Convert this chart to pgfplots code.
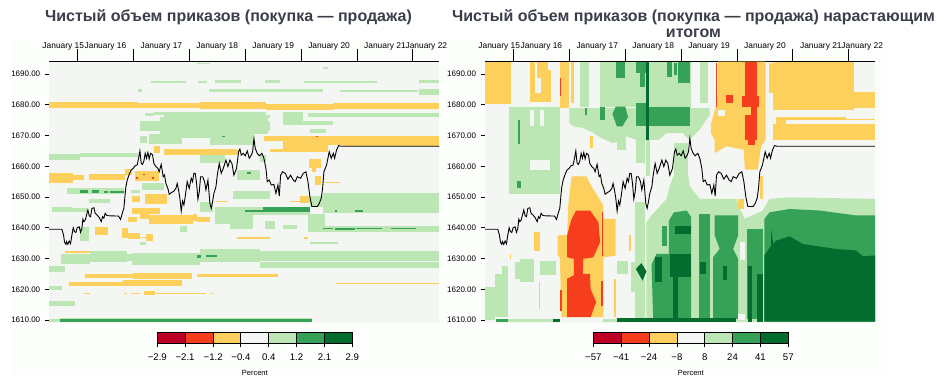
\documentclass[border=0pt]{standalone}
\usepackage{fontspec}
\setmainfont{Liberation Sans}
\usepackage{pgfplots}
\usepackage{pgfplotstable}
\pgfplotsset{compat=1.18}
\definecolor{hR}{HTML}{F63D1E}
\definecolor{hDR}{HTML}{BD0026}
\definecolor{hY}{HTML}{FDCF5C}
\definecolor{hB}{HTML}{F4F6F3}
\definecolor{hG}{HTML}{BDE6B5}
\definecolor{hM}{HTML}{35A257}
\definecolor{hD}{HTML}{046C2E}
\definecolor{ttl}{HTML}{3A3F4A}
\definecolor{pane}{HTML}{FCFEFB}
\newcommand{\hr}[5]{\addplot[fill=#1,draw=none,forget plot] coordinates {(#2,#4)(#3,#4)(#3,#5)(#2,#5)};}
\newcommand{\hp}[2]{\addplot[fill=#1,draw=none,forget plot] coordinates {#2};}
\pgfplotstableread{
x y
14.494 1639.5
14.720 1639.5
14.75 1637.6
14.768 1635.3
14.792 1634.6
14.804 1635.5
14.827 1634.6
14.851 1635.7
14.875 1634.8
14.899 1637.6
14.923 1640.0
14.947 1638.7
14.971 1638.5
14.994 1640
15.030 1640.3
15.054 1638.5
15.078 1639.8
15.096 1642.8
15.114 1642
15.138 1642.5
15.161 1644.1
15.185 1645.8
15.209 1643.9
15.233 1643.6
15.257 1646.3
15.293 1646.5
15.316 1644.7
15.352 1644.1
15.388 1643.3
15.424 1642
15.448 1643.6
15.471 1643.1
15.495 1644.7
15.519 1644.1
15.555 1643.9
15.734 1643.8
15.770 1642.7
15.805 1645
15.829 1646.3
15.853 1651.2
15.865 1653.3
15.889 1655.5
15.925 1657.4
15.960 1658.8
15.996 1659.3
16.032 1660.2
16.068 1660.4
16.092 1662.6
16.116 1665
16.139 1661
16.163 1660.6
16.187 1661.7
16.211 1664.2
16.235 1662.6
16.259 1664.5
16.282 1662.4
16.306 1664.2
16.342 1663.7
16.366 1660.9
16.402 1659.9
16.438 1659.3
16.461 1658.2
16.497 1660.6
16.533 1656.6
16.557 1657.2
16.581 1654.4
16.616 1652.8
16.64 1650.9
16.676 1651.4
16.724 1651.9
16.76 1652.8
16.783 1654.4
16.807 1652.3
16.831 1649.6
16.855 1645.4
16.879 1648.7
16.903 1647.4
16.926 1650.1
16.962 1655
16.998 1652.8
17.034 1656.1
17.058 1655
17.081 1657.7
17.106 1657.7
17.13 1654.4
17.154 1649.3
17.178 1651.7
17.201 1656.6
17.237 1656.6
17.273 1655
17.297 1652.3
17.333 1655.5
17.368 1647.9
17.392 1646.3
17.416 1648.5
17.44 1651.2
17.476 1653.3
17.5 1657.1
17.535 1660.9
17.571 1657.7
17.607 1659.3
17.655 1662
17.69 1659.9
17.726 1662
17.762 1660.9
17.798 1657.1
17.845 1659.3
17.881 1664.7
17.905 1665.6
17.929 1663.6
17.965 1664.2
18.0 1663.4
18.036 1665
18.072 1662.6
18.108 1663.6
18.132 1664.7
18.156 1669.1
18.179 1665.8
18.215 1664.2
18.251 1663.4
18.299 1664.2
18.334 1662.6
18.37 1659.3
18.394 1655
18.43 1655.5
18.466 1653.9
18.513 1654.1
18.549 1651.2
18.585 1653.9
18.609 1650.3
18.633 1657.1
18.668 1658.2
18.716 1657.7
18.764 1655.8
18.811 1657.1
18.859 1655.5
18.895 1655
18.931 1656.6
18.99 1656.1
19.038 1657.7
19.086 1658.2
19.122 1655
19.157 1650.1
19.193 1646.9
19.253 1646.9
19.289 1646.9
19.324 1647.9
19.36 1649.6
19.384 1652.8
19.408 1658.2
19.455 1660.4
19.503 1664.7
19.539 1662.6
19.575 1664.2
19.599 1662.6
19.634 1665.3
19.67 1666.7
19.72 1666.5
21.472 1666.5
}\pricetable
\pgfplotsset{
  mainpanel/.style={
    anchor=south west, scale only axis, width=390bp, height=261.2bp,
    xmin=14.495, xmax=21.472, ymin=1609.12, ymax=1694.07,
    clip=false,
    axis background/.style={fill=hB},
    axis x line*=top, axis y line*=left,
    y axis line style={draw=none},
    x axis line style={black,line width=0.9bp,-},
    tick align=outside, tick style={black,line width=0.9bp},
    xtick=\empty,
    minor xtick={14.75,15.25,15.5,15.75,16.25,16.5,16.75,17.25,17.5,17.75,18.25,18.5,18.75,19.25,19.5,19.75,20.25,20.5,20.75,21.25},
    minor tick length=3bp, major tick length=4.3bp,
    extra x ticks={15,16,17,18,19,20,21},
    extra x tick labels={},
    extra x tick style={major tick length=13bp},
    ytick={1610,1620,1630,1640,1650,1660,1670,1680,1690},
    yticklabels={1610.00,1620.00,1630.00,1640.00,1650.00,1660.00,1670.00,1680.00,1690.00},
    yticklabel style={font=\fontsize{8bp}{9bp}\selectfont,inner sep=0pt,xshift=-4.6bp},
  },
  barpanel/.style={
    anchor=south west, scale only axis, width=195bp, height=11.3bp,
    ymin=0, ymax=1, ytick=\empty, xtick pos=bottom,
    tick align=outside, major tick length=4bp,
    axis line style={black,line width=0.9bp}, tick style={black,line width=0.9bp},
    xticklabel style={font=\fontsize{9.6bp}{10bp}\selectfont,inner sep=0pt,yshift=-6bp},
    xlabel={Percent}, xlabel style={font=\fontsize{7.5bp}{8bp}\selectfont,inner sep=0pt,yshift=-10bp},
  },
}
\newcommand{\dn}[2]{\node[font=\fontsize{8.4bp}{9bp}\selectfont,inner sep=0pt,anchor=center,yshift=14.8bp] at (axis cs:#1,1694.07) {January #2};}
\newcommand{\daynames}{\dn{14.745}{15}\dn{15.5}{16}\dn{16.5}{17}\dn{17.5}{18}\dn{18.5}{19}\dn{19.5}{20}\dn{20.5}{21}\dn{21.24}{22}}
\begin{document}
\begin{tikzpicture}[x=1bp,y=1bp]
\path[use as bounding box] (0,0) rectangle (947,376);
\fill[white] (0,0) rectangle (947,376);
\fill[pane] (11,1) rectangle (882,336);
\node[font=\fontsize{16bp}{17bp}\selectfont\bfseries,text=ttl,inner sep=0pt] at (228.5,359) {Чистый объем приказов (покупка — продажа)};
\node[font=\fontsize{16bp}{17bp}\selectfont\bfseries,text=ttl,inner sep=0pt] at (693.5,359) {Чистый объем приказов (покупка — продажа) нарастающим};
\node[font=\fontsize{16bp}{17bp}\selectfont\bfseries,text=ttl,inner sep=0pt] at (693.5,343) {итогом};

% ---------- left panel
\begin{axis}[mainpanel, at={(49.3bp,53.3bp)}]
% light green
\hr{hG}{17.13}{17.37}{1693.7}{1693.4}
\hr{hG}{19.39}{19.48}{1692.2}{1691.7}
\hr{hG}{16.31}{16.94}{1687.8}{1687.1}
\hr{hG}{17.16}{17.31}{1687.8}{1687.1}
\hr{hG}{17.46}{17.92}{1688}{1687.1}
\hr{hG}{18.35}{18.62}{1688}{1687.1}
\hr{hG}{19.05}{20.36}{1687.7}{1687.2}
\hr{hG}{21.10}{21.472}{1688.1}{1687.1}
\hr{hG}{17.36}{19.39}{1685}{1684}
\hr{hG}{16.09}{16.15}{1685}{1684.3}
\hr{hG}{19.69}{21.09}{1684.8}{1684.1}
\hr{hG}{21.10}{21.472}{1685.1}{1683.2}
\hr{hG}{16.36}{18.38}{1677.6}{1676.7}
\hr{hG}{16.21}{16.36}{1677.3}{1676.2}
\hr{hG}{16.54}{18.44}{1676.7}{1675.6}
\hr{hG}{16.11}{18.44}{1674.8}{1671.6}
\hr{hG}{16.48}{18.4}{1676}{1670.5}
\hr{hG}{16.27}{16.86}{1670.5}{1667.3}
\hr{hG}{16.86}{17.37}{1670.5}{1669.3}
\hr{hG}{17.37}{18.14}{1670.5}{1666.9}
\hr{hG}{16.12}{16.24}{1669.7}{1667.5}
\hr{hG}{18.68}{19.04}{1677.5}{1673.5}
\hr{hG}{19.04}{19.57}{1674.8}{1673.5}
\hr{hG}{19.13}{21.472}{1677.3}{1676}
\hr{hG}{19.16}{19.45}{1672.2}{1670.8}
\hr{hG}{14.495}{15.05}{1664.1}{1662.1}
\hr{hG}{15.05}{16.09}{1664.3}{1663}
\hr{hG}{17.19}{17.64}{1663.8}{1661.1}
\hr{hG}{17.86}{18.26}{1658.9}{1655.6}
\hr{hG}{18.26}{18.38}{1663.8}{1661.5}
\hr{hG}{16.15}{16.54}{1654.6}{1652.4}
\hr{hG}{14.55}{14.9}{1646.9}{1645}
\hr{hG}{14.9}{15.17}{1646.3}{1645}
\hr{hG}{14.81}{15.83}{1652.8}{1651}
\hr{hG}{15.2}{15.58}{1649.4}{1648.1}
\hr{hG}{15.95}{16.12}{1652.4}{1651.3}
\hr{hG}{17.46}{19.16}{1646.9}{1644.2}
\hr{hG}{17.46}{17.73}{1644.2}{1641.2}
\hr{hG}{17.73}{18.14}{1644}{1639.6}
\hr{hG}{18.35}{18.53}{1642.3}{1639.6}
\hr{hG}{18.68}{18.92}{1640.9}{1639.6}
\hr{hG}{19.13}{19.42}{1644.5}{1638.5}
\hr{hG}{17.79}{18.44}{1652.1}{1649.4}
\hr{hG}{17.19}{17.43}{1648.3}{1645.2}
\hr{hG}{19.39}{21.472}{1651.3}{1644.7}
\hr{hG}{19.16}{19.42}{1650.4}{1646.6}
\hr{hG}{19.13}{21.472}{1640.5}{1638.5}
\hr{hG}{15.05}{15.2}{1640.2}{1635.8}
\hr{hG}{16.12}{16.23}{1635.5}{1634.4}
\hr{hG}{19.16}{19.66}{1635.5}{1634.7}
\hr{hG}{16.83}{16.95}{1640.5}{1638.7}
\hr{hG}{14.71}{15.23}{1631.5}{1628.2}
\hr{hG}{15.23}{15.88}{1632.6}{1628.8}
\hr{hG}{15.88}{15.97}{1631.5}{1629.3}
\hr{hG}{15.97}{17.19}{1631.7}{1627.9}
\hr{hG}{17.19}{18.26}{1633.1}{1629}
\hr{hG}{18.26}{21.472}{1632.6}{1629.3}
\hr{hG}{18.26}{21.472}{1628.9}{1626.8}
\hr{hG}{14.495}{14.78}{1627.4}{1625.5}
\hr{hG}{14.495}{14.72}{1620.9}{1619.6}
\hr{hG}{14.495}{14.96}{1616.3}{1614.7}
\hr{hG}{14.69}{19.19}{1610.8}{1610.3}
\hr{hG}{14.495}{14.69}{1610.4}{1609.5}
% yellow
\hr{hY}{14.495}{16.09}{1680.9}{1679.1}
\hr{hY}{16.09}{17.19}{1680.5}{1678.9}
\hr{hY}{17.19}{18.38}{1680.8}{1678.7}
\hr{hY}{18.38}{19.57}{1680.2}{1678.4}
\hr{hY}{19.57}{21.472}{1680.5}{1678.6}
\hr{hY}{18.33}{18.67}{1669.9}{1668.1}
\hr{hY}{18.44}{18.67}{1665.7}{1664.6}
\hr{hY}{18.67}{19.48}{1669.9}{1664.5}
\hr{hY}{19.48}{19.75}{1669.9}{1667}
\hr{hY}{19.75}{21.472}{1669.7}{1666.7}
\hr{hY}{16.36}{16.47}{1666.7}{1664.3}
\hr{hY}{16.54}{17.85}{1665.7}{1663.8}
\hr{hY}{17.85}{17.89}{1665.4}{1663.8}
\hr{hY}{14.495}{14.92}{1657.8}{1654.6}
\hr{hY}{14.92}{15.11}{1657}{1655.6}
\hr{hY}{15.2}{15.85}{1657.6}{1655.4}
\hr{hY}{15.85}{15.97}{1659.1}{1657.3}
\hr{hY}{16.03}{16.45}{1658.4}{1655.1}
\hr{hY}{19.14}{19.36}{1662.3}{1659.4}
\hr{hY}{19.19}{19.27}{1659.4}{1658}
\hr{hY}{19.25}{19.36}{1656.7}{1654}
\hr{hY}{19.42}{19.7}{1654.9}{1654.5}
\hr{hY}{15.97}{16.12}{1650.2}{1648.5}
\hr{hY}{16.21}{16.6}{1651}{1647.7}
\hr{hY}{15.97}{16.48}{1646.3}{1644.5}
\hr{hY}{16.12}{16.27}{1644.5}{1642.9}
\hr{hY}{16.27}{17.07}{1644}{1641.2}
\hr{hY}{15.91}{16.06}{1643.4}{1642}
\hr{hY}{17.07}{17.13}{1644.5}{1642.3}
\hr{hY}{17.13}{17.37}{1643.4}{1642}
\hr{hY}{18.98}{19.16}{1650.4}{1648.1}
\hr{hY}{15.32}{15.54}{1640.2}{1637.7}
\hr{hY}{15.79}{15.91}{1639.8}{1636.6}
\hr{hY}{15.91}{16.12}{1638.2}{1636.4}
\hr{hY}{16.12}{16.23}{1636.9}{1636.6}
\hr{hY}{16.23}{16.35}{1638}{1635.8}
\hr{hY}{17.86}{18.44}{1637.1}{1636.3}
\hr{hY}{19.05}{19.13}{1637.1}{1636.3}
\hr{hY}{14.78}{15.23}{1632.5}{1631.7}
\hr{hY}{15.14}{16}{1625}{1623.6}
\hr{hY}{16}{17.04}{1625.3}{1623.4}
\hr{hY}{14.84}{15.82}{1622.5}{1621}
\hr{hY}{15.82}{16.86}{1623}{1621}
\hr{hY}{17.13}{18.59}{1625}{1624}
\hr{hY}{15.11}{15.22}{1618.9}{1618.4}
\hr{hY}{15.83}{15.89}{1618.9}{1618.6}
\hr{hY}{15.95}{16.12}{1618.9}{1618.4}
\hr{hY}{16.19}{16.39}{1619.3}{1618}
\hr{hY}{16.39}{17.3}{1618.9}{1618.4}
\hr{hY}{17.37}{17.42}{1618.9}{1618.4}
\hr{hY}{19.63}{21.472}{1621.9}{1621.7}
\hr{hY}{17.47}{17.7}{1648.8}{1648.5}
\hr{hY}{18.8}{18.98}{1648.8}{1648.5}
% mid green
\hr{hM}{17.58}{17.64}{1669.9}{1669.4}
\hr{hM}{18.04}{18.1}{1658}{1657.4}
\hr{hM}{15.05}{15.18}{1652.2}{1651.2}
\hr{hM}{15.26}{15.38}{1652.2}{1651.2}
\hr{hM}{15.48}{15.55}{1652}{1651.4}
\hr{hM}{15.58}{15.83}{1651.8}{1651.4}
\hr{hM}{17.99}{18.56}{1645.9}{1645.2}
\hr{hM}{18.32}{19.16}{1646.6}{1645}
\hr{hM}{19.6}{19.64}{1645.9}{1645.2}
\hr{hM}{19.96}{20.11}{1645.9}{1645.2}
\hr{hM}{19.39}{19.57}{1639.8}{1639.5}
\hr{hM}{19.6}{19.96}{1640}{1639.4}
\hr{hM}{19.99}{20.45}{1639.8}{1639.5}
\hr{hM}{20.6}{21.06}{1639.8}{1639.5}
\hr{hM}{17.14}{17.21}{1631}{1630.1}
\hr{hM}{17.3}{17.49}{1631}{1630.4}
\hr{hM}{14.69}{19.19}{1610.3}{1609.5}
% red specks
\hr{hR}{16.04}{16.08}{1656.4}{1655.9}
\hr{hR}{16.18}{16.21}{1657.6}{1657.1}
\hr{hR}{16.33}{16.37}{1656.4}{1655.9}
\hr{hR}{19.27}{19.3}{1669.7}{1669.4}
\addplot[black,line width=0.9bp,forget plot] table[x=x,y=y] {\pricetable};
\daynames
\end{axis}

% ---------- right panel
\begin{axis}[mainpanel, at={(485.2bp,53.3bp)}]
% lower right green
\hr{hG}{17.18}{17.35}{1648.5}{1609.5}
\hr{hG}{17.11}{17.18}{1629}{1619}
\hp{hG}{(17.38,1609.5)(17.38,1641.8)(17.47,1644)(17.74,1649.4)(17.8,1653.7)(17.86,1656.7)(18.13,1656.7)(18.15,1653.7)(18.33,1649.4)(18.99,1649.4)(19.05,1646.1)(19.14,1642.9)(19.46,1645.6)(19.58,1649.4)(19.94,1649.9)(21.472,1649.4)(21.472,1609.5)}
% mid green
\hp{hM}{(19.49,1609.5)(19.49,1642.9)(19.58,1645)(19.94,1646.1)(20.48,1645.6)(21.13,1644)(21.472,1644)(21.472,1609.5)}
\hp{hM}{(17.78,1642.3)(17.87,1645)(18.1,1645.6)(18.18,1643.4)(18.18,1609.5)(17.78,1609.5)}
\hr{hM}{18.32}{18.51}{1644.5}{1610.4}
\hp{hM}{(18.6,1644)(19.02,1644)(19.02,1637.5)(18.93,1633.1)(19.02,1629.9)(19.02,1610.4)(18.57,1610.4)(18.57,1630.4)(18.69,1633.1)(18.6,1637.5)}
\hr{hM}{17.65}{17.74}{1640.7}{1634.2}
\hp{hM}{(17.47,1628)(17.56,1631.5)(17.8,1631.5)(17.8,1610.4)(17.5,1610.4)}
\hr{hM}{19.17}{19.46}{1639.6}{1610.4}
% dark green
\hp{hD}{(19.49,1609.5)(19.49,1631)(19.61,1634.2)(19.61,1639.6)(19.65,1634.7)(19.7,1635.8)(19.94,1637.2)(20.18,1634.7)(20.77,1633.1)(21.13,1632.6)(21.25,1630.7)(21.472,1631)(21.472,1609.5)}
\hr{hD}{17.8}{18.18}{1631.5}{1623.9}
\hr{hD}{17.86}{17.95}{1623.9}{1609.5}
\hr{hD}{17.53}{17.65}{1630.4}{1622.3}
\hp{hD}{(17.19,1626.6)(17.29,1628.5)(17.38,1625.8)(17.31,1622.8)}
\hr{hD}{18.33}{18.45}{1628.8}{1625}
\hr{hD}{18.75}{18.82}{1627.7}{1623.1}
\hr{hD}{17.89}{18.18}{1640.7}{1638}
\hr{hD}{19.2}{19.26}{1627.7}{1609.5}
\hr{hD}{19.35}{19.46}{1625}{1609.5}
\hr{hD}{15.71}{15.83}{1610.3}{1609.5}
\hr{hD}{16.85}{18.99}{1610.7}{1609.5}
\hr{hG}{14.91}{15.71}{1610.3}{1609.5}
\hr{hG}{16.61}{16.85}{1610.4}{1609.5}
\hr{hM}{14.69}{14.91}{1610.3}{1609.5}
% lower left green
\hr{hG}{14.495}{14.67}{1620.7}{1610}
\hr{hG}{14.67}{14.91}{1625}{1610.9}
\hr{hG}{14.8}{14.91}{1627.7}{1619}
\hr{hG}{15.12}{15.36}{1629.9}{1622.3}
\hr{hG}{15.03}{15.12}{1629}{1623.4}
\hr{hG}{15.48}{15.77}{1629.3}{1624.5}
\hr{hG}{16.85}{17.05}{1629.3}{1625}
% upper left green
\hr{hG}{14.92}{15.83}{1679.4}{1651}
\hr{hB}{15.3}{15.36}{1678.3}{1673}
\hr{hB}{15.48}{15.55}{1678.3}{1673}
\hr{hB}{15.3}{15.66}{1662.1}{1658.9}
\hr{hM}{15.09}{15.12}{1675.1}{1667.3}
\hr{hM}{15.07}{15.14}{1655.1}{1653}
% upper green
\hr{hG}{16.55}{18.18}{1694.07}{1679.4}
\hr{hG}{16.19}{16.35}{1694.07}{1679.4}
\hr{hG}{18.33}{18.48}{1694.07}{1680.5}
\hp{hG}{(16,1678.9)(18.51,1678.9)(18.51,1676.7)(18.33,1671.9)(18.15,1668.6)(18.03,1670.8)(17.74,1670.8)(17.6,1668.6)(17.35,1668.6)(17.2,1668.6)(17.02,1669.7)(16.78,1667.5)(16.58,1669.1)(16.43,1670.8)(16.25,1672.4)(16.08,1673)(16,1674)}
\hr{hG}{17.2}{17.35}{1668.6}{1661.1}
\hr{hG}{16.85}{17.02}{1669.7}{1665.4}
\hr{hG}{17.38}{17.44}{1668.6}{1656.7}
\hr{hG}{17.87}{18.13}{1667.5}{1652.4}
% upper mid green
\hr{hM}{16.83}{16.99}{1694.07}{1688.6}
\hr{hM}{17.2}{17.38}{1694.07}{1690.2}
\hr{hM}{17.26}{17.35}{1690.2}{1685.9}
\hr{hM}{17.74}{17.83}{1694.07}{1689.1}
\hr{hM}{17.95}{18.15}{1694.07}{1687}
\hr{hM}{17.87}{17.92}{1693.5}{1689.7}
\hr{hM}{16.28}{16.31}{1678.9}{1676.7}
\hr{hM}{16.55}{16.64}{1679.2}{1675.1}
\hp{hM}{(16.77,1677)(16.83,1679.4)(17,1679.4)(17.05,1676)(16.95,1673)(16.85,1673)}
\hr{hM}{17.2}{17.42}{1680.5}{1673}
\hr{hM}{17.42}{18.15}{1679.4}{1673.2}
\hr{hD}{17.38}{17.42}{1694.07}{1668.6}
% upper yellow
\hr{hY}{14.495}{14.95}{1694.07}{1680.2}
\hr{hY}{15.3}{15.39}{1694.07}{1681}
\hr{hY}{15.43}{15.61}{1694.07}{1688.6}
\hr{hY}{15.5}{15.67}{1691.3}{1682.7}
\hr{hY}{15.3}{15.67}{1683.7}{1681}
\hr{hY}{15.83}{16}{1694.07}{1678.9}
\hr{hY}{16.03}{16.08}{1694.07}{1680.5}
\hr{hR}{15.83}{15.85}{1688.6}{1682.7}
\hp{hY}{(18.66,1694.07)(19.51,1694.07)(19.51,1668.6)(19.43,1666.5)(19.37,1658.9)(19.14,1658.9)(19.12,1665.4)(18.81,1666.5)(18.6,1664.3)(18.6,1668.6)(18.53,1670.8)(18.53,1673.5)(18.62,1679.4)(18.66,1684)}
\hr{hB}{18.66}{18.78}{1678.3}{1676.2}
\hr{hY}{19.41}{19.46}{1656.7}{1649.4}
\hr{hY}{19.02}{19.12}{1649.4}{1646.1}
\hr{hY}{19.58}{19.64}{1693.5}{1683.7}
% upper red
\hr{hR}{19.14}{19.35}{1694.07}{1682.8}
\hr{hR}{19.08}{19.4}{1682.8}{1679.4}
\hr{hR}{19.25}{19.35}{1679.4}{1676.7}
\hr{hR}{19.14}{19.35}{1676.7}{1668.6}
\hr{hR}{19.2}{19.33}{1668.6}{1667}
\hr{hR}{18.81}{18.93}{1683.2}{1680.5}
\hr{hR}{18.62}{18.64}{1693.5}{1679.4}
% right yellow
\hr{hY}{19.64}{21.1}{1694.07}{1678.3}
\hr{hY}{21.1}{21.472}{1684.1}{1678.9}
\hr{hY}{19.7}{19.88}{1676}{1673.2}
\hr{hY}{19.88}{20.95}{1676}{1674.9}
\hr{hY}{20.95}{21.472}{1675.3}{1674.9}
\hr{hY}{19.64}{21.472}{1673.8}{1668.6}
% lower yellow
\hp{hY}{(16.04,1656.7)(16.31,1656.7)(16.38,1654)(16.61,1647.2)(16.61,1642.9)(16.83,1642.9)(16.83,1630.9)(16.61,1630.4)(16.61,1610.9)(15.86,1610.9)(15.83,1630.4)(15.79,1630.9)(15.79,1637.5)(15.96,1637.7)(15.98,1647.2)}
\hr{hY}{16.37}{16.42}{1669.7}{1665.9}
\hr{hY}{15.36}{15.48}{1638.5}{1632.6}
\hr{hY}{15.45}{15.48}{1622.3}{1613.6}
\hr{hY}{16.8}{16.83}{1623.4}{1610.9}
\hr{hY}{17.07}{17.1}{1637.5}{1632.6}
\hr{hY}{14.93}{14.95}{1631.5}{1629.9}
% lower red
\hp{hR}{(16.12,1645.6)(16.37,1645.6)(16.52,1641.8)(16.55,1635.3)(16.43,1630.4)(16.25,1629.9)(16.24,1625)(16.37,1625)(16.38,1620.1)(16.48,1615.8)(16.38,1610.9)(15.96,1610.9)(15.96,1623.4)(16.08,1624.5)(16.08,1629.9)(15.96,1630.4)(15.96,1637.5)(16.03,1642.3)}
\hr{hR}{16.58}{16.61}{1645}{1630.9}
\hr{hR}{16.57}{16.6}{1622.8}{1614.7}
\hr{hR}{15.83}{15.86}{1619.6}{1612.8}
\hr{hB}{19.02}{19.14}{1612}{1609.9}
\hr{hB}{19.05}{19.14}{1635.3}{1629.5}
\addplot[black,line width=0.9bp,forget plot] table[x=x,y=y] {\pricetable};
\daynames
\end{axis}

% ---------- colour keys
\begin{axis}[barpanel, at={(157.3bp,32.7bp)}, xmin=-2.88, xmax=2.88,
  xtick={-2.88,-2.06,-1.23,-0.41,0.41,1.23,2.06,2.88},
  xticklabels={−2.9,−2.1,−1.2,−0.4,0.4,1.2,2.1,2.9}]
\addplot[fill=hDR,draw=black,line width=0.9bp] coordinates {(-2.88,0)(-2.06,0)(-2.06,1)(-2.88,1)} --cycle;
\addplot[fill=hR,draw=black,line width=0.9bp] coordinates {(-2.06,0)(-1.23,0)(-1.23,1)(-2.06,1)} --cycle;
\addplot[fill=hY,draw=black,line width=0.9bp] coordinates {(-1.23,0)(-0.41,0)(-0.41,1)(-1.23,1)} --cycle;
\addplot[fill=hB,draw=black,line width=0.9bp] coordinates {(-0.41,0)(0.41,0)(0.41,1)(-0.41,1)} --cycle;
\addplot[fill=hG,draw=black,line width=0.9bp] coordinates {(0.41,0)(1.23,0)(1.23,1)(0.41,1)} --cycle;
\addplot[fill=hM,draw=black,line width=0.9bp] coordinates {(1.23,0)(2.06,0)(2.06,1)(1.23,1)} --cycle;
\addplot[fill=hD,draw=black,line width=0.9bp] coordinates {(2.06,0)(2.88,0)(2.88,1)(2.06,1)} --cycle;
\end{axis}
\begin{axis}[barpanel, at={(593.3bp,32.7bp)}, xmin=-57, xmax=57,
  xtick={-57,-40.7,-24.4,-8.1,8.1,24.4,40.7,57},
  xticklabels={−57,−41,−24,−8,8,24,41,57}]
\addplot[fill=hDR,draw=black,line width=0.9bp] coordinates {(-57,0)(-40.7,0)(-40.7,1)(-57,1)} --cycle;
\addplot[fill=hR,draw=black,line width=0.9bp] coordinates {(-40.7,0)(-24.4,0)(-24.4,1)(-40.7,1)} --cycle;
\addplot[fill=hY,draw=black,line width=0.9bp] coordinates {(-24.4,0)(-8.1,0)(-8.1,1)(-24.4,1)} --cycle;
\addplot[fill=hB,draw=black,line width=0.9bp] coordinates {(-8.1,0)(8.1,0)(8.1,1)(-8.1,1)} --cycle;
\addplot[fill=hG,draw=black,line width=0.9bp] coordinates {(8.1,0)(24.4,0)(24.4,1)(8.1,1)} --cycle;
\addplot[fill=hM,draw=black,line width=0.9bp] coordinates {(24.4,0)(40.7,0)(40.7,1)(24.4,1)} --cycle;
\addplot[fill=hD,draw=black,line width=0.9bp] coordinates {(40.7,0)(57,0)(57,1)(40.7,1)} --cycle;
\end{axis}
\end{tikzpicture}
\end{document}
